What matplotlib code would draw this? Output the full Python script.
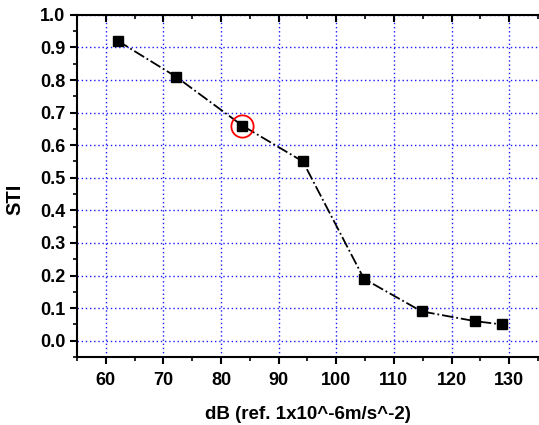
import matplotlib
matplotlib.use("Agg")
import matplotlib.pyplot as plt
from matplotlib.ticker import MultipleLocator

plt.rcParams["font.family"] = ["Liberation Sans", "DejaVu Sans"]
plt.rcParams["font.weight"] = "bold"

# Level (dB) vs speech transmission index
level_db = [62.1, 72.2, 83.7, 94.2, 104.8, 114.8, 124.1, 128.7]
sti = [0.92, 0.81, 0.66, 0.55, 0.19, 0.09, 0.06, 0.05]
highlight_idx = 2

fig = plt.figure(figsize=(5.39, 4.25), dpi=100)
ax = fig.add_axes([0.143, 0.16, 0.855, 0.805])

ax.plot(level_db, sti, color="black", linestyle="-.", linewidth=1.3,
        marker="s", markersize=6.5, markerfacecolor="black",
        markeredgecolor="black", zorder=3)
# Red circle marking one point
ax.plot(level_db[highlight_idx], sti[highlight_idx], marker="o",
        markersize=16, markerfacecolor="none", markeredgecolor="red",
        markeredgewidth=1.3, linestyle="none", zorder=4)

ax.set_xlim(55, 135)
ax.set_ylim(-0.05, 1.0)
ax.xaxis.set_major_locator(MultipleLocator(10))
ax.xaxis.set_minor_locator(MultipleLocator(5))
ax.yaxis.set_major_locator(MultipleLocator(0.1))
ax.yaxis.set_minor_locator(MultipleLocator(0.05))
ax.yaxis.set_major_formatter(plt.FormatStrFormatter("%.1f"))

ax.grid(True, which="major", color="#1a1aff", linestyle=(0, (1, 2)),
        linewidth=1.0)
ax.set_axisbelow(True)

ax.spines["right"].set_visible(False)
for side in ("left", "bottom", "top"):
    ax.spines[side].set_linewidth(1.5)

ax.tick_params(axis="both", which="major", direction="out", length=5,
               width=1.5, labelsize=13, top=False)
ax.tick_params(axis="both", which="minor", direction="out", length=3,
               width=1.2)
ax.tick_params(axis="x", which="both", top=True)
ax.tick_params(axis="x", which="major", labeltop=False, pad=6)
# ticks on the top spine point inward
for tick in ax.xaxis.get_major_ticks() + ax.xaxis.get_minor_ticks():
    tick.tick2line.set_marker(3)
for lbl in ax.get_xticklabels() + ax.get_yticklabels():
    lbl.set_fontweight("bold")

ax.set_xlabel("dB (ref. 1x10^-6m/s^-2)", fontsize=13.5, fontweight="bold",
              labelpad=12)
ax.set_ylabel("STI", fontsize=14.5, fontweight="bold", labelpad=10)
ax.yaxis.set_label_coords(-0.115, 0.46)

fig.savefig("out.png", dpi=100)
